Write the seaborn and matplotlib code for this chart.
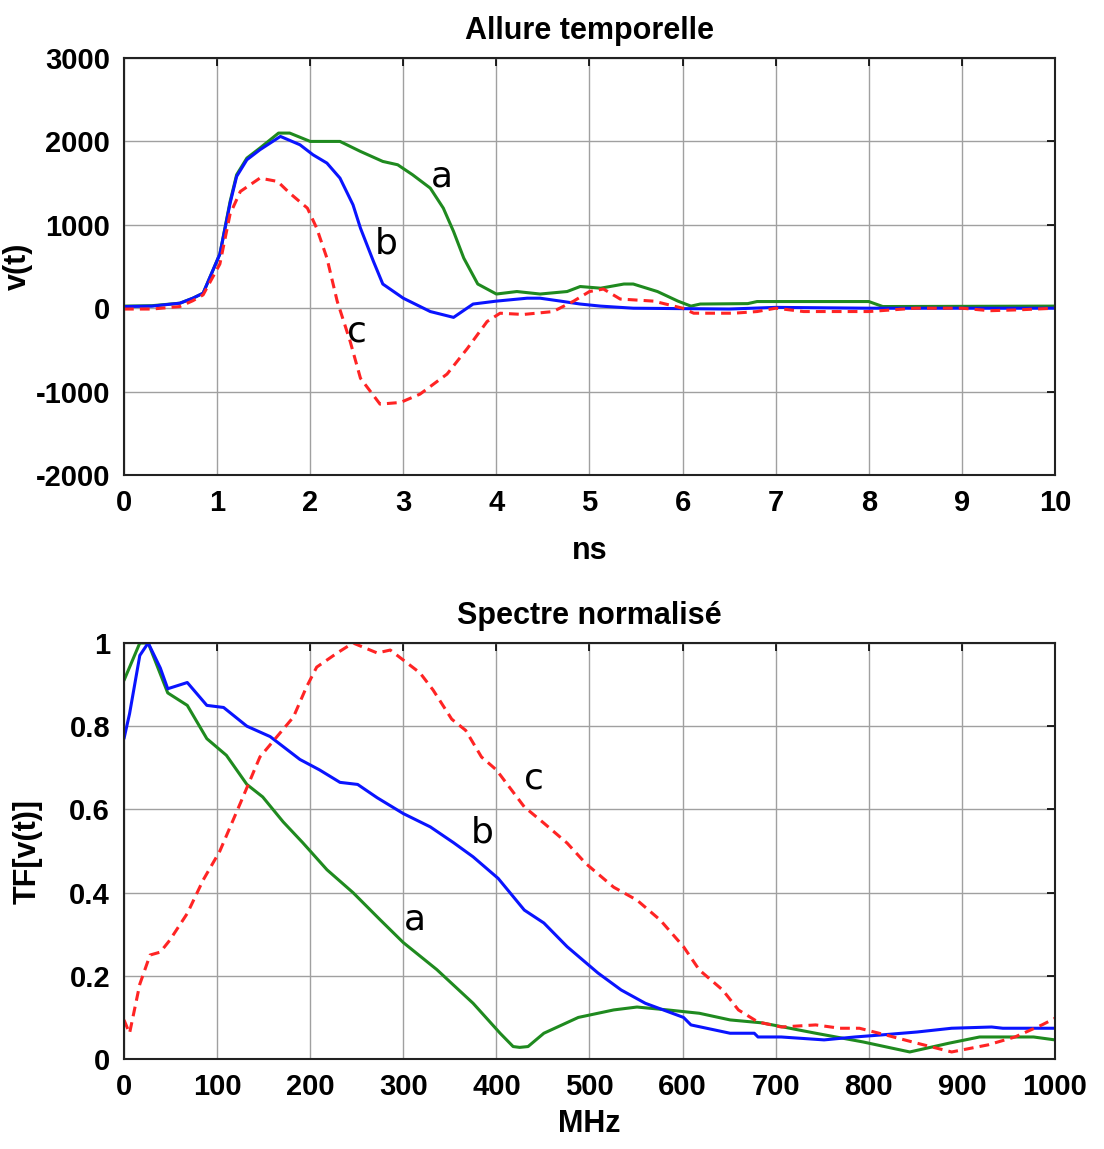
import pandas as pd
import matplotlib
matplotlib.use("Agg")
import matplotlib.pyplot as plt
import seaborn as sns

# time domain curves (ns, v(t))
t_a = [0, 0.3, 0.6, 0.74, 0.85, 1.03, 1.14, 1.21, 1.32, 1.46, 1.66, 1.78, 2.0, 2.32, 2.54, 2.78, 2.94,
       3.1, 3.29, 3.43, 3.54, 3.65, 3.8, 4.0, 4.22, 4.47, 4.76, 4.9, 5.12, 5.37, 5.47, 5.73, 5.95,
       6.09, 6.19, 6.7, 6.8, 8.0, 8.15, 10]
v_a = [25, 30, 60, 120, 180, 650, 1280, 1600, 1800, 1920, 2100, 2100, 2000, 2000, 1880, 1760, 1720,
       1600, 1440, 1200, 920, 600, 290, 170, 200, 170, 200, 260, 240, 290, 290, 200, 85,
       25, 50, 55, 80, 80, 20, 25]

t_b = [0, 0.3, 0.6, 0.74, 0.85, 1.03, 1.14, 1.21, 1.32, 1.46, 1.68, 1.89, 2.03, 2.18, 2.32, 2.46,
       2.54, 2.68, 2.78, 3.0, 3.29, 3.54, 3.75, 4.0, 4.33, 4.47, 4.69, 4.9, 5.12, 5.47, 6.5, 7.0,
       8.0, 10]
v_b = [20, 25, 60, 120, 180, 650, 1260, 1580, 1780, 1900, 2060, 1960, 1840, 1740, 1560, 1240,
       960, 560, 290, 120, -40, -110, 50, 85, 120, 120, 85, 50, 25, 0, -10, 10,
       0, 0]

t_c = [0, 0.3, 0.6, 0.74, 0.85, 1.03, 1.14, 1.25, 1.46, 1.65, 1.78, 1.97, 2.07, 2.18, 2.29, 2.43,
       2.54, 2.75, 2.97, 3.18, 3.47, 3.69, 3.9, 4.04, 4.29, 4.61, 4.83, 5.0, 5.15, 5.33, 5.69,
       6.0, 6.12, 6.55, 6.8, 7.0, 7.3, 8.0, 8.5, 9.0, 9.3, 9.6, 10]
v_c = [-10, -10, 20, 90, 160, 530, 1130, 1400, 1560, 1520, 1380, 1200, 960, 600, 85, -400,
       -840, -1150, -1130, -1030, -790, -480, -160, -60, -75, -40, 85, 200, 230, 110, 85,
       0, -60, -60, -40, 0, -40, -40, 0, 0, -30, -20, 0]

# normalised spectra (MHz, TF[v(t)])
f_a = [0, 17, 26, 47, 68, 89, 110, 132, 149, 171, 192, 218, 246, 275, 300, 336, 375, 404, 418,
       425, 434, 451, 488, 526, 551, 584, 618, 651, 685, 743, 794, 844, 886, 919, 977, 1000]
s_a = [0.91, 1.0, 1.0, 0.88, 0.85, 0.77, 0.73, 0.66, 0.63, 0.57, 0.52, 0.455, 0.40, 0.335, 0.28,
       0.215, 0.134, 0.062, 0.03, 0.028, 0.03, 0.062, 0.10, 0.118, 0.125, 0.118, 0.11, 0.094,
       0.087, 0.062, 0.041, 0.017, 0.038, 0.053, 0.053, 0.046]

f_b = [0, 6, 17, 26, 39, 47, 68, 89, 107, 132, 157, 189, 210, 232, 251, 272, 300, 329, 354, 375,
       402, 430, 451, 476, 509, 534, 560, 601, 609, 651, 677, 681, 706, 752, 785, 814, 852, 889,
       932, 944, 1000]
s_b = [0.77, 0.83, 0.97, 1.0, 0.94, 0.89, 0.905, 0.85, 0.845, 0.80, 0.775, 0.72, 0.695, 0.665,
       0.66, 0.628, 0.59, 0.558, 0.52, 0.486, 0.434, 0.358, 0.327, 0.27, 0.207, 0.166, 0.134,
       0.10, 0.082, 0.062, 0.062, 0.053, 0.053, 0.046, 0.053, 0.058, 0.065, 0.074, 0.077, 0.074,
       0.074]

f_c = [0, 6, 17, 28, 39, 49, 68, 85, 103, 125, 146, 164, 182, 196, 207, 229, 246, 272, 286, 300,
       318, 332, 352, 367, 384, 400, 430, 451, 476, 496, 526, 551, 576, 601, 618, 643, 660, 681,
       706, 743, 769, 790, 818, 852, 889, 928, 957, 986, 1000]
s_c = [0.094, 0.062, 0.18, 0.25, 0.257, 0.285, 0.35, 0.43, 0.50, 0.615, 0.726, 0.774, 0.822,
       0.894, 0.942, 0.976, 1.0, 0.976, 0.983, 0.959, 0.928, 0.887, 0.817, 0.79, 0.726, 0.695,
       0.606, 0.567, 0.519, 0.47, 0.413, 0.382, 0.334, 0.27, 0.214, 0.166, 0.118, 0.089, 0.077,
       0.082, 0.074, 0.074, 0.058, 0.038, 0.017, 0.034, 0.053, 0.082, 0.098]

x_ticks_top = [0, 1, 2, 3, 4, 5, 6, 7, 8, 9, 10]
y_ticks_top = [-2000, -1000, 0, 1000, 2000, 3000]
x_ticks_bot = [0, 100, 200, 300, 400, 500, 600, 700, 800, 900, 1000]
y_ticks_bot = [0, 0.2, 0.4, 0.6, 0.8, 1]
y_ticklabels_bot = ["0", "0.2", "0.4", "0.6", "0.8", "1"]

green = "#1f8a1f"
blue = "#0a14ff"
red = "#ff2424"

sns.set_style("white")
plt.rcParams['font.family'] = ['Liberation Sans', 'DejaVu Sans']
plt.rcParams['axes.unicode_minus'] = False
plt.rcParams['text.color'] = 'black'
plt.rcParams['axes.labelcolor'] = 'black'
plt.rcParams['xtick.color'] = 'black'
plt.rcParams['ytick.color'] = 'black'

fig = plt.figure(figsize=(11.04, 11.49), dpi=100)
ax1 = fig.add_axes([0.1123, 0.5866, 0.8433, 0.3629])
ax2 = fig.add_axes([0.1123, 0.0783, 0.8433, 0.3621])

lab_kw = dict(fontsize=26, family='DejaVu Sans', ha='center', va='center', color='black')

# top plot: time domain
sns.lineplot(x=t_a, y=v_a, ax=ax1, color=green, linewidth=2.2, estimator=None, sort=False)
sns.lineplot(x=t_b, y=v_b, ax=ax1, color=blue, linewidth=2.2, estimator=None, sort=False)
sns.lineplot(x=t_c, y=v_c, ax=ax1, color=red, linewidth=2.2, estimator=None, sort=False,
             linestyle=(0, (3.2, 2.0)))
ax1.set_xlim(0, 10)
ax1.set_ylim(-2000, 3000)
ax1.set_xticks(x_ticks_top)
ax1.set_yticks(y_ticks_top)
ax1.set_title("Allure temporelle", fontsize=22, fontweight='bold', pad=14)
ax1.set_xlabel("ns", fontsize=22, fontweight='bold', labelpad=14)
ax1.set_ylabel("v(t)", fontsize=22, fontweight='bold')
ax1.yaxis.set_label_coords(-0.098, 0.5)
ax1.text(3.41, 1580, "a", **lab_kw)
ax1.text(2.82, 780, "b", **lab_kw)
ax1.text(2.5, -280, "c", **lab_kw)

# bottom plot: spectra
sns.lineplot(x=f_a, y=s_a, ax=ax2, color=green, linewidth=2.2, estimator=None, sort=False)
sns.lineplot(x=f_b, y=s_b, ax=ax2, color=blue, linewidth=2.2, estimator=None, sort=False)
sns.lineplot(x=f_c, y=s_c, ax=ax2, color=red, linewidth=2.2, estimator=None, sort=False,
             linestyle=(0, (3.2, 2.0)))
ax2.set_xlim(0, 1000)
ax2.set_ylim(0, 1)
ax2.set_xticks(x_ticks_bot)
ax2.set_yticks(y_ticks_bot)
ax2.set_yticklabels(y_ticklabels_bot)
ax2.set_title("Spectre normalisé", fontsize=22, fontweight='bold', pad=14)
ax2.set_xlabel("MHz", fontsize=22, fontweight='bold', labelpad=6)
ax2.set_ylabel("TF[v(t)]", fontsize=22, fontweight='bold')
ax2.yaxis.set_label_coords(-0.087, 0.5)
ax2.text(312, 0.335, "a", **lab_kw)
ax2.text(385, 0.545, "b", **lab_kw)
ax2.text(440, 0.675, "c", **lab_kw)

for ax in (ax1, ax2):
    ax.grid(True, color="#a0a0a0", linewidth=1.0, linestyle='-')
    ax.set_axisbelow(True)
    ax.tick_params(axis='both', direction='in', length=6, width=1.2, top=True, right=True,
                   labelsize=21, pad=10)
    for lab in ax.get_xticklabels() + ax.get_yticklabels():
        lab.set_fontweight('bold')
    for s in ax.spines.values():
        s.set_color("#222222")
        s.set_linewidth(1.5)

fig.savefig("out.png", dpi=100)
